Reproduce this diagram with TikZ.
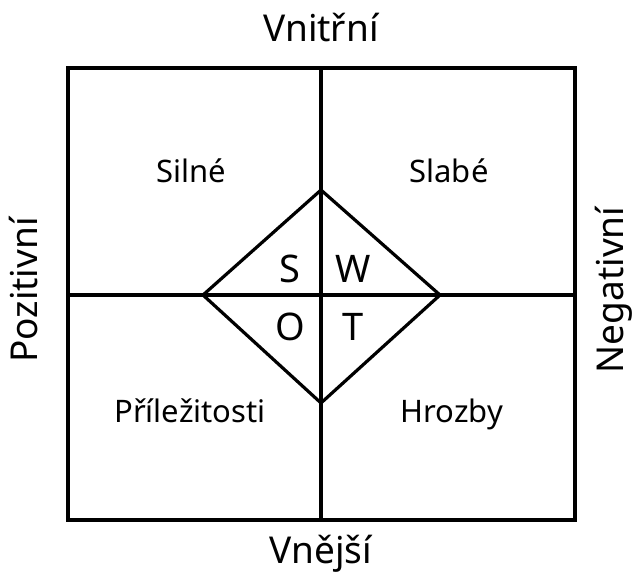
\documentclass[tikz,border=0pt]{standalone}
\usepackage{fontspec}
\setmainfont{Noto Sans}
\usetikzlibrary{positioning}

\begin{document}
\begin{tikzpicture}[x=1pt, y=-1pt, line width=3.2pt,
  every node/.style={inner sep=0pt},
  side/.style={font=\fontsize{37}{43}\selectfont, anchor=base},
  field/.style={font=\fontsize{31}{37}\selectfont, anchor=base},
  letter/.style={font=\fontsize{38}{44}\selectfont, anchor=base}]
  \useasboundingbox (0,0) rectangle (634,574);
  % ============ FRAME AND CROSS ============
  \coordinate (tl) at (68,68);
  \coordinate (br) at (575,520);
  \coordinate (top) at (321,68);
  \coordinate (bot) at (321,520);
  \coordinate (lft) at (68,295);
  \coordinate (rgt) at (575,295);
  \draw (tl) rectangle (br);
  \draw (top) -- (bot);
  \draw (lft) -- (rgt);
  % ============ DIAMOND ============
  \coordinate (dn) at (321,190);
  \coordinate (de) at (440,295);
  \coordinate (ds) at (321,403);
  \coordinate (dw) at (203,295);
  \draw[line join=miter] (dn) -- (de) -- (ds) -- (dw) -- cycle;
  % ============ SIDE LABELS ============
  \node[side] (inner) at (321,41) {Vnitřní};
  \node[side] (outer) at (321,563) {Vnější};
  \node[side, rotate=90] (pos) at (37,290) {Pozitivní};
  \node[side, rotate=90] (neg) at (623,290) {Negativní};
  % ============ QUADRANT LABELS ============
  \node[field] (str) at (191,182) {Silné};
  \node[field] (weak) at (449,182) {Slabé};
  \node[field] (opp) at (190,422) {Příležitosti};
  \node[field] (thr) at (452,422) {Hrozby};
  % ============ SWOT LETTERS ============
  \node[letter] (s) at (290,282) {S};
  \node[letter] (w) at (353,282) {W};
  \node[letter] (o) at (290,340) {O};
  \node[letter] (t) at (353,340) {T};
\end{tikzpicture}
\end{document}
